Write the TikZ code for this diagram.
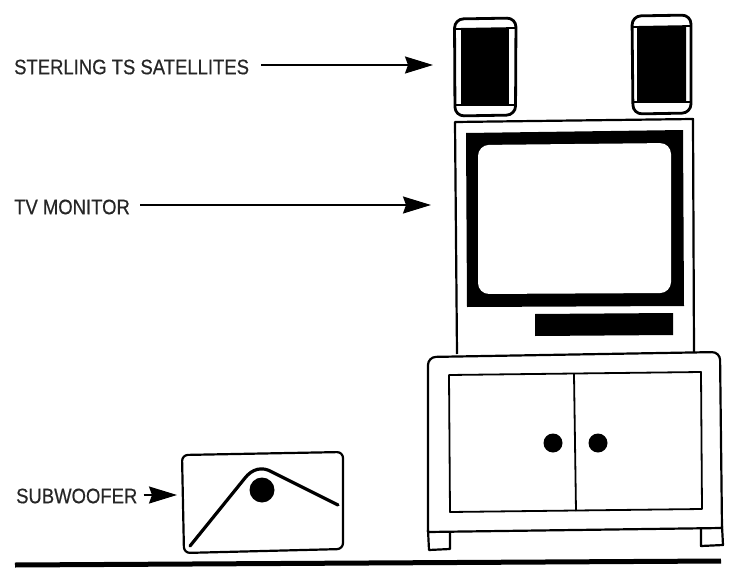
\documentclass[tikz,border=0pt]{standalone}
\usepackage{fontspec}
\setmainfont[FakeBold=0.6]{Liberation Sans}
\usetikzlibrary{arrows.meta}
\tikzset{
  outline/.style={draw=black,line width=2.2pt,line join=round},
  speaker outline/.style={draw=black,line width=2.8pt,line join=round},
  thin outline/.style={draw=black,line width=1.8pt,line join=round},
  solid black/.style={fill=black,draw=none},
  callout/.style={font=\fontsize{21}{21}\selectfont,text=black!85,xscale=0.88,inner sep=0pt,anchor=west},
  pointer/.style={draw=black,line width=1.6pt,-{Stealth[length=28pt,width=17pt,inset=3pt]}},
  floor line/.style={draw=black,line width=5pt},
}
\begin{document}
\begin{tikzpicture}[x=1pt,y=-1pt]
  \useasboundingbox (0,0) rectangle (732,573);

  % satellite speakers
  \draw[speaker outline,rounded corners=9pt] (454.5,19) -- (516,18) -- (515.5,115) -- (455,116) -- cycle;
  \fill[solid black] (461,28) -- (509,28) -- (509,105) -- (461,105) -- cycle;
  \draw[thin outline] (455,29) -- (515,28) (455,105) -- (515,105);
  \draw[speaker outline,rounded corners=9pt] (632,16) -- (691,15) -- (691,113) -- (633,114) -- cycle;
  \fill[solid black] (637,27) -- (686,26) -- (686,102) -- (637,102) -- cycle;
  \draw[thin outline] (633,27) -- (691,26) (633,102) -- (691,102);

  % television cabinet and screen
  \draw[outline] (457,354) -- (455,122) -- (693,119) -- (694,352);
  \fill[solid black] (466,133) -- (683,130) -- (684,306) -- (467,307) -- cycle;
  \fill[white,rounded corners=11pt] (478,145) -- (671,143) -- (671,293) -- (478,294) -- cycle;
  \fill[solid black] (535,314) -- (673,313) -- (673,335) -- (535,336) -- cycle;

  % stand with doors, knobs and feet
  \draw[outline,rounded corners=8pt] (428,532) -- (428,357) -- (720,352) -- (722,528);
  \draw[outline] (428,532) -- (722,528);
  \draw[outline] (428,530) -- (429,550) -- (450,549) -- (450,532);
  \draw[outline] (701,529) -- (701,546) -- (723,545) -- (722,526);
  \draw[thin outline] (449,375) -- (701,372) -- (702,509) -- (450,512) -- cycle;
  \draw[thin outline] (574,374) -- (576,511);
  \fill[solid black] (553,443) circle (9.5pt);
  \fill[solid black] (598,443) circle (9.5pt);

  % subwoofer
  \draw[outline,rounded corners=6pt] (182,455) -- (343,452) -- (343,549) -- (184,553) -- cycle;
  \draw[line width=3.2pt,draw=black,line cap=round,line join=round]
    (190,546) -- (245,478) .. controls (252,469) and (262,466) .. (272,472) -- (338,505);
  \fill[solid black] (262,490) circle (12.5pt);

  % floor
  \draw[floor line] (15,565) -- (721,561);

  % labels and pointers
  \coordinate (speaker tip) at (433,65);
  \coordinate (monitor tip) at (431,205);
  \coordinate (woofer tip) at (177,495);
  \node[callout] (speaker label) at (14,67) {STERLING TS SATELLITES};
  \node[callout] (monitor label) at (14,207) {TV MONITOR};
  \node[callout] (woofer label) at (16,496) {SUBWOOFER};
  \draw[pointer] (speaker label.east) ++(12,-2) -- (speaker tip);
  \draw[pointer] (monitor label.east) ++(10,-2) -- (monitor tip);
  \draw[pointer] (woofer label.east) ++(6,-1) -- (woofer tip);
\end{tikzpicture}
\end{document}
